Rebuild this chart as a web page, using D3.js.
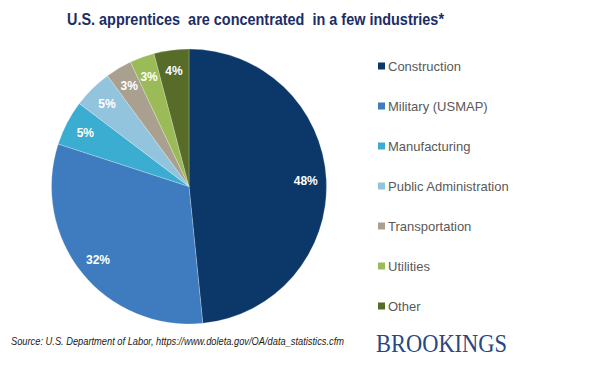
<!DOCTYPE html>
<html><head><meta charset="utf-8">
<script src="https://cdn.jsdelivr.net/npm/d3@7"></script>
<style>body{margin:0;background:#fff}svg{display:block}</style>
</head><body><svg id="c" width="607" height="384"></svg>
<script>
const categories = ["Construction","Military (USMAP)","Manufacturing","Public Administration","Transportation","Utilities","Other"];
const shares = [48.4, 31.6, 5.3, 4.6, 3.1, 2.9, 4.1];
const colors = ["#0b3868","#3f7bbf","#3badd1","#92c4de","#a9a090","#9bbb59","#586c2a"];
const title = "U.S. apprentices  are concentrated  in a few industries*";
const source = "Source: U.S. Department of Labor, https://www.doleta.gov/OA/data_statistics.cfm";
const brand = "BROOKINGS";

const svg = d3.select("#c");
const data = categories.map((c,i)=>({cat:c, v:shares[i], col:colors[i]}));
const cx = 189, cy = 186.5, R = 137.5;
const pie = d3.pie().sort(null).value(d=>d.v);
const arc = d3.arc().innerRadius(0).outerRadius(R);
const arcs = pie(data);
const g = svg.append("g").attr("transform",`translate(${cx},${cy})`);
g.selectAll("path").data(arcs).join("path")
  .attr("d",arc).attr("fill",d=>d.data.col)
  .attr("stroke","#ffffff").attr("stroke-width",0.4).attr("stroke-opacity",0.6);
const lab = d3.arc().innerRadius(R*0.85).outerRadius(R*0.85);
g.selectAll("text").data(arcs).join("text")
  .attr("transform",d=>`translate(${lab.centroid(d)})`)
  .attr("text-anchor","middle").attr("dy","0.35em")
  .attr("font-family","Liberation Sans, Arial, sans-serif").attr("font-weight","bold")
  .attr("font-size",12).attr("fill","#fff")
  .text(d=>Math.round(d.data.v)+"%");

svg.append("text").attr("x",67).attr("y",25)
  .style("white-space","pre")
  .attr("font-family","Liberation Sans, Arial, sans-serif").attr("font-weight","bold")
  .attr("font-size",16.5).attr("fill","#1c2d66")
  .attr("textLength",377).attr("lengthAdjust","spacingAndGlyphs").text(title);

const leg = svg.append("g");
const ly = d3.scalePoint().domain(categories).range([66,306]);
const li = leg.selectAll("g").data(data).join("g").attr("transform",d=>`translate(378,${ly(d.cat)})`);
li.append("rect").attr("x",0).attr("y",-3.5).attr("width",7).attr("height",7).attr("fill",d=>d.col);
li.append("text").attr("x",10).attr("dy","0.35em")
  .attr("font-family","Liberation Sans, Arial, sans-serif").attr("font-size",13).attr("fill","#595959")
  .text(d=>d.cat);

svg.append("text").attr("x",11).attr("y",345)
  .attr("font-family","Liberation Sans, Arial, sans-serif").attr("font-style","italic")
  .attr("font-size",10.5).attr("fill","#1a1a1a")
  .attr("textLength",333).attr("lengthAdjust","spacingAndGlyphs").text(source);

svg.append("text").attr("x",376).attr("y",352)
  .attr("font-family","Liberation Serif, Times New Roman, serif")
  .attr("font-size",26).attr("fill","#2a4781").attr("textLength",131).attr("lengthAdjust","spacingAndGlyphs").text(brand);
</script></body></html>
